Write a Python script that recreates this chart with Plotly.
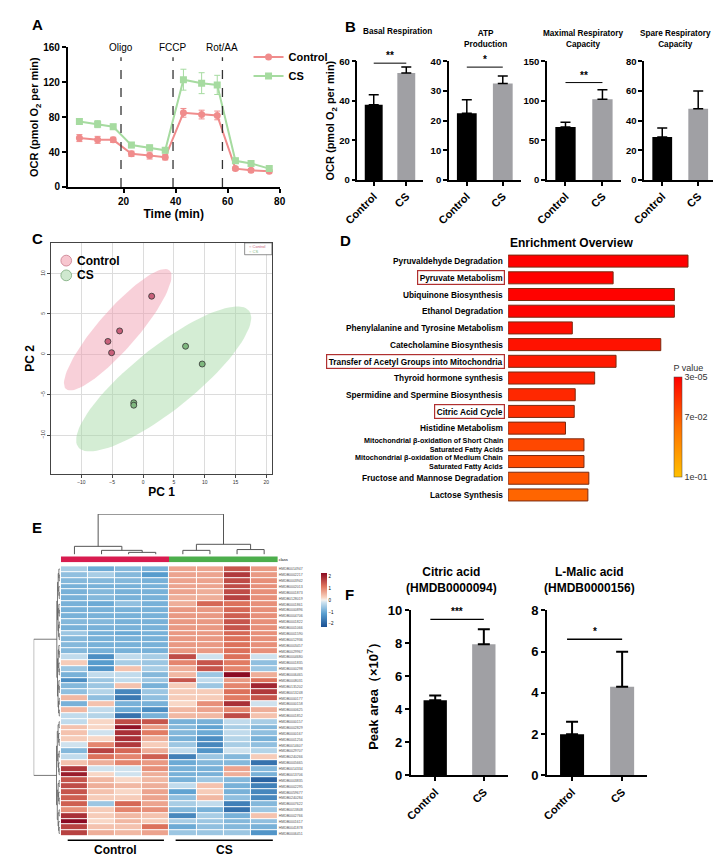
import plotly.graph_objects as go
import numpy as np

W, H = 721, 856
FONT = "Liberation Sans, Arial"

# ---------------- DATA ----------------
time_min = [3, 10, 16, 23, 30, 36, 43, 50, 56, 63, 69, 76]
ocr_control = [56, 54, 54, 38, 36, 34, 85, 83, 82, 21, 19, 18]
ocr_control_err = [4, 4, 3, 3, 4, 3, 5, 5, 5, 2, 2, 2]
ocr_cs = [75, 72, 69, 48, 45, 42, 123, 119, 117, 30, 27, 21]
ocr_cs_err = [3, 4, 3, 3, 3, 3, 12, 12, 11, 3, 3, 2]
injections = [19, 39, 58]
injection_labels = ["Oligo", "FCCP", "Rot/AA"]

groups = ["Control", "CS"]
b_titles = ["Basal Respiration", "ATP<br>Production", "Maximal Respiratory<br>Capacity", "Spare Respiratory<br>Capacity"]
b_means = [[38, 54], [22.5, 32.5], [67, 102], [29, 48]]
b_errs = [[5, 3], [4.5, 2.5], [6, 12], [6, 12]]
b_ymax = [60, 40, 150, 80]
b_dtick = [20, 10, 50, 20]
b_sig = ["**", "*", "**", None]
b_sig_y = [59, 38, 123, None]

pc_control_x = [1.4, -3.8, -5.7, -5.1]
pc_control_y = [7.2, 2.9, 1.6, 0.2]
pc_cs_x = [6.9, 9.6, -1.5, -1.5]
pc_cs_y = [1.0, -1.2, -6.0, -6.3]

pathways = ["Pyruvaldehyde Degradation", "Pyruvate Metabolism", "Ubiquinone Biosynthesis",
            "Ethanol Degradation", "Phenylalanine and Tyrosine Metabolism", "Catecholamine Biosynthesis",
            "Transfer of Acetyl Groups into Mitochondria", "Thyroid hormone synthesis",
            "Spermidine and Spermine Biosynthesis", "Citric Acid Cycle", "Histidine Metabolism",
            "Mitochondrial β-oxidation of Short Chain<br>Saturated Fatty Acids",
            "Mitochondrial β-oxidation of Medium Chain<br>Saturated Fatty Acids",
            "Fructose and Mannose Degradation", "Lactose Synthesis"]
enrichment = [18.5, 10.8, 17.1, 17.1, 6.6, 15.7, 11.1, 8.9, 6.9, 6.8, 5.9, 7.8, 7.8, 8.3, 8.2]
p_values = [0.0001, 0.0005, 0.001, 0.002, 0.006, 0.008, 0.011, 0.014, 0.018, 0.02,
            0.024, 0.032, 0.033, 0.038, 0.045]
highlighted = ["Pyruvate Metabolism", "Transfer of Acetyl Groups into Mitochondria", "Citric Acid Cycle"]

samples = ["C1", "C2", "C3", "C4", "S1", "S2", "S3", "S4"]
metabolites = ["HMDB0014947", "HMDB0002217", "HMDB0003942", "HMDB0002013", "HMDB0001873", "HMDB0128019",
               "HMDB0001861", "HMDB0000896", "HMDB0004706", "HMDB0001822", "HMDB0001066", "HMDB0001590",
               "HMDB0012936", "HMDB0003457", "HMDB0029967", "HMDB0004680", "HMDB0001835", "HMDB0000298",
               "HMDB0006465", "HMDB0008031", "HMDB0135202", "HMDB0013248", "HMDB0000177", "HMDB0000158",
               "HMDB0000625", "HMDB0001852", "HMDB0000157", "HMDB0002829", "HMDB0000167", "HMDB0001256",
               "HMDB0014607", "HMDB0029707", "HMDB0240266", "HMDB0005665", "HMDB0014334", "HMDB0013706",
               "HMDB0003835", "HMDB0002295", "HMDB0059677", "HMDB0240284", "HMDB0007622", "HMDB0013848",
               "HMDB0002766", "HMDB0001617", "HMDB0041878", "HMDB0006451"]
heat = [
    [-0.5, -1.0, -0.8, -0.9, 0.7, 0.7, 1.5, 0.8],
    [-0.7, -0.5, -0.8, -1.2, 0.7, 0.7, 1.8, 0.8],
    [-0.8, -0.8, -0.8, -0.9, 0.7, 0.7, 1.6, 0.9],
    [-0.9, -0.9, -0.9, -0.9, 0.7, 0.7, 1.6, 0.9],
    [-0.9, -0.8, -0.9, -0.9, 0.7, 0.6, 1.6, 0.9],
    [-0.9, -0.8, -0.9, -0.9, 0.6, 0.6, 1.7, 0.9],
    [-0.9, -1.0, -0.7, -0.9, 0.6, 1.3, 1.2, 0.9],
    [-0.9, -0.9, -0.9, -0.9, 0.8, 0.8, 1.3, 0.9],
    [-0.9, -0.9, -0.9, -0.9, 0.8, 0.8, 1.4, 0.9],
    [-0.8, -0.8, -0.9, -0.9, 0.8, 0.8, 1.5, 0.9],
    [-0.9, -0.9, -0.9, -0.9, 0.8, 0.8, 1.5, 0.9],
    [-0.6, -0.9, -1.0, -0.9, 0.8, 0.8, 1.3, 0.9],
    [-0.8, -0.9, -0.9, -0.9, 0.8, 0.8, 1.2, 0.9],
    [-0.8, -0.9, -0.9, -0.9, 0.8, 0.8, 1.2, 0.9],
    [-0.8, -0.9, -0.9, -0.9, 0.8, 0.8, 1.2, 0.9],
    [-0.3, -1.4, -0.3, -0.5, 1.6, -0.2, 1.2, -0.2],
    [0.3, -1.2, -0.5, -0.6, 1.0, 1.5, 1.1, -0.7],
    [-0.6, -1.3, 0.4, -0.5, 0.6, 1.5, 1.0, -0.6],
    [-0.9, -0.3, -0.3, -0.8, 0.5, -0.6, 2.3, 0.6],
    [-1.4, -0.6, -0.3, -0.6, 1.5, -0.3, 0.8, 1.2],
    [-0.8, -0.6, 0.4, -0.9, 0.3, -0.6, 1.0, 2.0],
    [-0.7, -0.4, -1.5, -0.6, 0.3, 0.3, 1.2, 1.8],
    [0.5, -0.7, -1.7, -0.7, 0.3, 0.3, 1.1, 1.5],
    [-0.9, 0.4, -0.9, -0.9, 0.2, 0.9, 1.9, -0.2],
    [0.5, -0.3, -1.0, -1.4, 0.5, 0.7, 1.0, 0.6],
    [-0.3, -0.4, -1.8, -0.9, 0.5, 0.5, 1.6, 0.4],
    [-0.3, 0.2, 1.6, 1.5, -0.9, -0.9, -0.3, -0.5],
    [0.4, 0.2, 2.2, 0.8, -0.8, -1.1, -0.5, -0.8],
    [0.4, -0.2, 1.9, 1.1, -0.8, -1.0, -0.3, -0.7],
    [0.3, 0.2, 1.9, 0.6, -0.9, -1.4, -0.4, -0.9],
    [-0.2, 1.0, 1.8, 0.3, -0.6, -1.5, -0.5, -0.7],
    [-0.8, 1.7, 1.3, 0.6, -0.3, -1.3, -0.2, -0.4],
    [-0.3, 1.2, 1.0, 1.4, -1.6, -0.6, -0.8, 0.3],
    [0.4, 0.6, 1.0, 0.8, -1.0, -0.8, -0.8, -1.8],
    [1.8, -0.2, -0.2, 0.9, -0.9, -0.9, 0.7, -0.8],
    [2.1, 0.2, -0.2, 0.6, -0.9, -0.9, 0.6, -0.9],
    [1.5, 0.5, 0.2, 0.5, -0.9, -0.6, -0.8, -2.0],
    [1.6, 0.6, 0.5, 0.6, -0.3, 0.4, -0.9, -1.6],
    [1.5, 0.4, 0.2, 0.7, -1.1, 0.3, -0.9, -1.5],
    [1.4, 0.3, 0.3, 0.7, -0.7, 0.5, -0.7, -1.5],
    [1.4, -0.6, 1.3, 0.7, -0.5, -0.3, -1.6, -0.8],
    [0.9, 0.3, 1.0, 0.9, -0.8, -0.9, -1.8, -0.6],
    [1.9, 0.3, 0.5, 0.4, -1.5, -0.5, -0.9, 0.4],
    [2.4, 0.2, 0.5, 0.3, -0.5, -0.6, -0.8, -0.7],
    [1.7, 0.4, 0.4, 1.2, -1.0, -0.7, -0.8, -0.9],
    [1.7, 0.6, 0.5, 0.7, -0.6, -0.6, -0.6, -1.3],
]
sample_class = [0, 0, 0, 0, 1, 1, 1, 1]
col_links = [(2, 3, 0.05), (1, 8, 0.1), (0, 9, 0.2), (4, 5, 0.1), (6, 7, 0.12), (11, 12, 0.25), (10, 13, 1.0)]

f_titles = ["Citric acid<br>(HMDB0000094)", "L-Malic acid<br>(HMDB0000156)"]
f_means = [[4.55, 7.95], [2.0, 4.3]]
f_errs = [[0.3, 0.9], [0.6, 1.7]]
f_ymax = [10, 8]
f_sig = ["***", "*"]
f_sig_y = [9.45, 6.6]

# ---------------- HELPERS ----------------
def xd(x0, x1):
    return [x0 / W, x1 / W]

def yd(y0, y1):
    return [1 - y1 / H, 1 - y0 / H]

def bf(size, color="black"):
    return dict(family=FONT, size=size, color=color, weight="bold")

annotations, shapes = [], []

def ann(text, x, y, size=10, bold=True, xanchor="center", yanchor="middle", color="black", **kw):
    annotations.append(dict(text=f"<b>{text}</b>" if bold else text, x=x / W, y=1 - y / H,
                            xref="paper", yref="paper", showarrow=False, xanchor=xanchor,
                            yanchor=yanchor, font=dict(size=size, color=color, family=FONT), **kw))

fig = go.Figure()
layout = {}

def std_axis(domain, **kw):
    d = dict(domain=domain, showline=True, linecolor="black", linewidth=1.5, ticks="outside",
             tickwidth=1.5, ticklen=4, tickcolor="black", showgrid=False, zeroline=False,
             tickfont=bf(10))
    d.update(kw)
    return d

# ---------------- A ----------------
fig.add_trace(go.Scatter(x=time_min, y=ocr_control, mode="lines+markers", name="<b>Control</b>",
                         line=dict(color="#f08c8c", width=2), marker=dict(symbol="circle", size=7, color="#f08c8c"),
                         error_y=dict(array=ocr_control_err, color="#f08c8c", thickness=1, width=3),
                         xaxis="x", yaxis="y"))
fig.add_trace(go.Scatter(x=time_min, y=ocr_cs, mode="lines+markers", name="<b>CS</b>",
                         line=dict(color="#a6dba0", width=2), marker=dict(symbol="square", size=7, color="#a6dba0"),
                         error_y=dict(array=ocr_cs_err, color="#a6dba0", thickness=1, width=3),
                         xaxis="x", yaxis="y"))
layout["xaxis"] = std_axis(xd(47, 265), range=[-1.5, 80], tickvals=[20, 40, 60, 80], anchor="y",
                           title=dict(text="<b>Time (min)</b>", font=dict(family=FONT, size=12), standoff=4))
layout["yaxis"] = std_axis(yd(33, 175), range=[0, 160], dtick=40, anchor="x",
                           title=dict(text="<b>OCR (pmol O<sub>2</sub> per min)</b>", font=dict(family=FONT, size=11), standoff=2))
for xv, lab in zip(injections, injection_labels):
    shapes.append(dict(type="line", xref="x", yref="y domain", x0=xv, x1=xv, y0=0, y1=0.93,
                       line=dict(color="#333", width=1.3, dash="dash")))
    annotations.append(dict(text=lab, x=xv, y=1.0, xref="x", yref="y domain", showarrow=False,
                            yanchor="middle", font=dict(family=FONT, size=10, color="black")))
ann("A", 8, 10, size=15, xanchor="left")

# ---------------- B ----------------
b_boxes = [(345, 412), (439, 513), (540, 616), (640, 714)]
b_title_x = [386, 477, 578, 672]
for i in range(4):
    xa, ya = f"x{i+2}", f"y{i+2}"
    fig.add_trace(go.Bar(x=groups, y=b_means[i], marker=dict(color=["black", "#a0a0a4"], line=dict(width=0)),
                         width=0.55, showlegend=False, xaxis=xa, yaxis=ya,
                         error_y=dict(type="data", array=b_errs[i], arrayminus=[0, 0], symmetric=False,
                                      color="black", thickness=1.5, width=5)))
    layout[f"xaxis{i+2}"] = std_axis(xd(*b_boxes[i]), anchor=ya, tickangle=-45, range=[-0.5, 1.5],
                                     tickfont=bf(11), ticklen=4)
    layout[f"yaxis{i+2}"] = std_axis(yd(47, 168), anchor=xa, range=[0, b_ymax[i]], dtick=b_dtick[i],
                                     tickfont=bf(9.5))
    ann(b_titles[i], b_title_x[i], 24 if "<br>" in b_titles[i] else 17, size=8.2)
    if b_sig[i]:
        shapes.append(dict(type="line", xref=xa, yref=ya, x0=0, x1=1, y0=b_sig_y[i], y1=b_sig_y[i],
                           line=dict(color="black", width=1)))
        annotations.append(dict(text=f"<b>{b_sig[i]}</b>", x=0.5, y=b_sig_y[i], xref=xa, yref=ya, showarrow=False,
                                yanchor="bottom", font=dict(family=FONT, size=10, color="black")))
layout["yaxis2"]["title"] = dict(text="<b>OCR (pmol O<sub>2</sub> per min)</b>", font=dict(family=FONT, size=11), standoff=2)
ann("B", 330, 12, size=15, xanchor="left")

# ---------------- C ----------------
def ellipse(cx, cy, ux, uy, vx, vy, n=100):
    t = np.linspace(0, 2 * np.pi, n)
    return cx + np.cos(t) * ux + np.sin(t) * vx, cy + np.cos(t) * uy + np.sin(t) * vy

ex, ey = ellipse(-4.1, 3.05, 8.4, 7.35, -2.37, 1.61)
fig.add_trace(go.Scatter(x=ex, y=ey, fill="toself", fillcolor="rgba(240,150,170,0.45)", line=dict(width=0),
                         mode="lines", showlegend=False, hoverinfo="skip", xaxis="x6", yaxis="y6"))
ex, ey = ellipse(3.35, -3.05, 13.85, 8.45, -3.13, 3.05)
fig.add_trace(go.Scatter(x=ex, y=ey, fill="toself", fillcolor="rgba(160,215,160,0.45)", line=dict(width=0),
                         mode="lines", showlegend=False, hoverinfo="skip", xaxis="x6", yaxis="y6"))
fig.add_trace(go.Scatter(x=pc_control_x, y=pc_control_y, mode="markers", showlegend=False,
                         marker=dict(size=6, color="#c8607a", line=dict(color="#333", width=0.8)), xaxis="x6", yaxis="y6"))
fig.add_trace(go.Scatter(x=pc_cs_x, y=pc_cs_y, mode="markers", showlegend=False,
                         marker=dict(size=6, color="#7fb87f", line=dict(color="#333", width=0.8)), xaxis="x6", yaxis="y6"))
gridax = dict(showline=True, mirror=True, linecolor="#444", linewidth=1, showgrid=True, gridcolor="#dcdcdc",
              zeroline=False, ticks="outside", ticklen=3, tickcolor="#444",
              tickfont=dict(family=FONT, size=5, color="#333"))
layout["xaxis6"] = dict(domain=xd(30, 257), range=[-14.9, 20.9], dtick=5, anchor="y6",
                        title=dict(text="<b>PC 1</b>", font=dict(family=FONT, size=12), standoff=2), **gridax)
layout["yaxis6"] = dict(domain=yd(232, 467), range=[-14.8, 13.8], dtick=5, anchor="x6", tickangle=-90,
                        title=dict(text="<b>PC 2</b>", font=dict(family=FONT, size=12), standoff=2), **gridax)
for (cy, txt, fc, lc) in [(250, "Control", "#f7c6cf", "#c87a8a"), (265, "CS", "#cfe8cf", "#7aaa7a")]:
    shapes.append(dict(type="circle", xref="paper", yref="paper", x0=40 / W, x1=51 / W,
                       y0=1 - (cy + 5.5) / H, y1=1 - (cy - 5.5) / H, fillcolor=fc, line=dict(color=lc, width=0.8)))
    ann(txt, 55, cy, size=12, xanchor="left")
shapes.append(dict(type="rect", xref="paper", yref="paper", x0=229 / W, x1=257 / W, y0=1 - 244 / H, y1=1 - 232 / H,
                   line=dict(color="#444", width=0.6), fillcolor="white"))
ann("○ Control", 231, 235.5, size=4, bold=False, xanchor="left", color="#c8607a")
ann("○ CS", 231, 240.5, size=4, bold=False, xanchor="left", color="#7fb87f")
ann("C", 8, 227, size=15, xanchor="left")

# ---------------- D ----------------
p_color = [0.1 - p for p in p_values]   # low p -> top of colour bar (red)
fig.add_trace(go.Bar(x=enrichment, y=pathways, orientation="h", width=0.72, showlegend=False,
                     marker=dict(color=p_color, cmin=0, cmax=0.1,
                                 colorscale=[[0, "#ffc000"], [0.5, "#ff7000"], [1, "#ff0000"]],
                                 line=dict(color="#7a2a10", width=1),
                                 colorbar=dict(x=660 / W, xanchor="left", y=1 - 343 / H, yanchor="top",
                                               len=137 / H, thickness=8, outlinewidth=0.5,
                                               title=dict(text="P value", side="top", font=dict(family=FONT, size=9, color="#333")),
                                               tickvals=[0.0999, 0.06, 0.0001], ticktext=["3e-05", "7e-02", "1e-01"],
                                               ticks="", tickfont=dict(family=FONT, size=9, color="#333"))),
                     xaxis="x7", yaxis="y7"))
layout["xaxis7"] = dict(domain=xd(500, 700), range=[0, 20], visible=False, anchor="y7")
layout["yaxis7"] = dict(domain=yd(242, 497), range=[14.5, -0.5], showticklabels=False, showline=False,
                        ticks="", anchor="x7", type="category", showgrid=False)
for i, pw in enumerate(pathways):
    two = "<br>" in pw
    a = dict(text=f"<b>{pw}</b>", x=497 / W, y=i, xref="paper", yref="y7", showarrow=False, xanchor="right",
             align="right", font=dict(family=FONT, size=7.2 if two else 8.3, color="black"))
    if pw in highlighted:
        a.update(bordercolor="#b03030", borderwidth=1.2, borderpad=1.5)
    annotations.append(a)
ann("Enrichment Overview", 565, 232, size=12)
ann("D", 325, 230, size=15, xanchor="left")

# ---------------- E ----------------
n_rows = len(heat)
fig.add_trace(go.Heatmap(z=heat, x=samples, y=metabolites, zmin=-2.3, zmax=2.3, xgap=1, ygap=1,
                         colorscale=[[0, "#1a4f92"], [0.25, "#5a9fd0"], [0.45, "#c9e0ee"], [0.5, "#f5f2ef"],
                                     [0.55, "#f8d3c0"], [0.75, "#e0765e"], [1, "#8b0a22"]],
                         colorbar=dict(x=297 / W, xanchor="left", y=1 - 558 / H, yanchor="top", len=75 / H,
                                       thickness=6, outlinewidth=0, tickvals=[-2, -1, 0, 1, 2],
                                       tickfont=dict(family=FONT, size=4.5)),
                         xaxis="x8", yaxis="y8"))
layout["xaxis8"] = dict(domain=xd(40, 263), showticklabels=False, ticks="", showline=False, showgrid=False, anchor="y8")
layout["yaxis8"] = dict(domain=yd(561, 836), autorange="reversed", side="right", ticks="", showline=False,
                        showgrid=False, tickfont=dict(family=FONT, size=3.5, color="#555"), anchor="x8")
fig.add_trace(go.Heatmap(z=[sample_class], x=samples, y=["class"], showscale=False,
                         colorscale=[[0, "#d81b4f"], [0.5, "#d81b4f"], [0.5, "#4cae4c"], [1, "#4cae4c"]],
                         xaxis="x9", yaxis="y9"))
layout["xaxis9"] = dict(domain=xd(40, 263), showticklabels=False, ticks="", showline=False, showgrid=False, anchor="y9")
layout["yaxis9"] = dict(domain=yd(551, 557), side="right", ticks="", showline=False, showgrid=False,
                        tickfont=dict(family=FONT, size=4, color="black"), anchor="x9")

def dendro_segments(links, n):
    pos = {i: (float(i), 0.0) for i in range(n)}
    xs, ys = [], []
    for k, (a, b, h) in enumerate(links):
        pa, pb = pos[a], pos[b]
        xs += [pa[0], pa[0], pb[0], pb[0], None]
        ys += [pa[1], h, h, pb[1], None]
        pos[n + k] = ((pa[0] + pb[0]) / 2, h)
    return xs, ys

dx, dy = dendro_segments(col_links, 8)
fig.add_trace(go.Scatter(x=dx, y=dy, mode="lines", line=dict(color="#555", width=1), showlegend=False,
                         hoverinfo="skip", xaxis="x10", yaxis="y10"))
layout["xaxis10"] = dict(domain=xd(40, 263), range=[-0.5, 7.5], visible=False, anchor="y10")
layout["yaxis10"] = dict(domain=yd(508, 549), range=[0, 1.0], visible=False, anchor="x10")

def build_links(lo, hi, links, n, depth_h):
    if hi - lo == 1:
        return lo
    mid = (lo + hi) // 2
    a = build_links(lo, mid, links, n, depth_h)
    b = build_links(mid, hi, links, n, depth_h)
    links.append((a, b, depth_h * np.log2(hi - lo)))
    return n + len(links) - 1

row_links = []
top = build_links(0, 26, row_links, n_rows, 0.025)
bot = build_links(26, n_rows, row_links, n_rows, 0.03)
row_links.append((top, bot, 1.0))
rx, ry = dendro_segments(row_links, n_rows)
fig.add_trace(go.Scatter(x=ry, y=rx, mode="lines", line=dict(color="#555", width=0.8), showlegend=False,
                         hoverinfo="skip", xaxis="x11", yaxis="y11"))
layout["xaxis11"] = dict(domain=xd(12, 39), range=[1.0, 0], visible=False, anchor="y11")
layout["yaxis11"] = dict(domain=yd(561, 836), range=[n_rows - 0.5, -0.5], visible=False, anchor="x11")

for x0, x1 in [(47, 146), (158, 258)]:
    shapes.append(dict(type="line", xref="paper", yref="paper", x0=x0 / W, x1=x1 / W, y0=1 - 840 / H, y1=1 - 840 / H,
                       line=dict(color="black", width=1.5)))
ann("Control", 96, 850, size=12)
ann("CS", 208, 850, size=12)
ann("E", 8, 522, size=15, xanchor="left")

# ---------------- F ----------------
f_boxes = [(400, 500), (540, 643)]
for i in range(2):
    xa, ya = f"x{i+12}", f"y{i+12}"
    fig.add_trace(go.Bar(x=groups, y=f_means[i], marker=dict(color=["black", "#a0a0a4"], line=dict(width=0)),
                         width=0.48, showlegend=False, xaxis=xa, yaxis=ya,
                         error_y=dict(type="data", array=f_errs[i], arrayminus=[0, 0], symmetric=False,
                                      color="black", thickness=2, width=6)))
    layout[f"xaxis{i+12}"] = std_axis(xd(*f_boxes[i]), anchor=ya, tickangle=-45, range=[-0.5, 1.5],
                                      tickfont=bf(11), linewidth=2)
    layout[f"yaxis{i+12}"] = std_axis(yd(606, 774), anchor=xa, range=[0, f_ymax[i]], dtick=2, linewidth=2,
                                      tickfont=bf(13))
    ann(f_titles[i], (f_boxes[i][0] + f_boxes[i][1]) / 2 - 8, 575, size=12)
    shapes.append(dict(type="line", xref=xa, yref=ya, x0=-0.1, x1=1.0, y0=f_sig_y[i], y1=f_sig_y[i],
                       line=dict(color="black", width=1.3)))
    annotations.append(dict(text=f"<b>{f_sig[i]}</b>", x=0.45, y=f_sig_y[i], xref=xa, yref=ya, showarrow=False,
                            yanchor="bottom", font=dict(family=FONT, size=10, color="black")))
layout["yaxis12"]["title"] = dict(text="<b>Peak area（×10<sup>7</sup>）</b>", font=dict(family=FONT, size=13), standoff=6)
ann("F", 330, 590, size=15, xanchor="left")

fig.update_layout(**layout)
fig.update_layout(width=W, height=H, margin=dict(l=0, r=0, t=0, b=0), paper_bgcolor="white",
                  plot_bgcolor="white", annotations=annotations, shapes=shapes, bargap=0.3,
                  font=dict(family=FONT, color="black"),
                  legend=dict(x=233 / W, y=1 - 28 / H, xanchor="left", yanchor="top", bgcolor="rgba(0,0,0,0)",
                              font=dict(family=FONT, size=11), tracegroupgap=0))
fig.write_html("out.html")
